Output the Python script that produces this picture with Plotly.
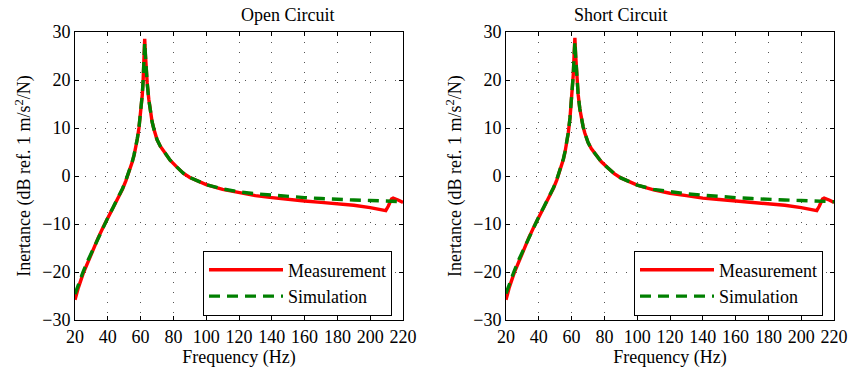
import plotly.graph_objects as go

# ---------------- data ----------------
freq = [20, 22, 25, 28, 31, 34, 37, 40, 43, 46, 49, 51, 53, 55, 56, 57, 58, 59, 60, 61,
        61.5, 62, 62.5, 63, 63.5, 64, 65, 66, 67, 68, 70, 72, 75, 78, 82, 86, 90, 95,
        100, 110, 120, 130, 140, 150, 160, 170, 180, 190, 200, 205, 208, 209.5, 211,
        212, 213, 214, 215, 217, 220]

meas_open = [-25.8, -23.3, -20.3, -17.8, -15.4, -13.0, -10.8, -8.8, -6.8, -4.8, -2.7,
             -1.0, 0.8, 3.0, 4.3, 5.9, 7.7, 10.0, 12.8, 16.8,
             19.5, 23.5, 28.6, 25.0, 21.8, 19.5, 16.0, 13.3, 11.3, 9.9, 7.6, 6.2, 4.6, 3.3,
             1.9, 0.6, -0.3, -1.1,
             -1.8, -2.8, -3.5, -4.1, -4.5, -4.9, -5.2, -5.5, -5.8, -6.1, -6.6, -7.0, -7.2,
             -7.2, -6.3, -5.4, -4.8, -4.6, -4.7, -5.0, -5.5]

sim_open = [-24.6, -22.6, -19.9, -17.5, -15.2, -12.9, -10.7, -8.7, -6.7, -4.7, -2.6,
            -0.9, 0.9, 3.1, 4.4, 6.0, 7.8, 10.1, 12.9, 16.9,
            19.6, 23.4, 27.8, 24.8, 21.7, 19.4, 15.9, 13.3, 11.3, 9.9, 7.6, 6.2, 4.6, 3.3,
            1.9, 0.6, -0.3, -1.1,
            -1.8, -2.7, -3.3, -3.7, -4.0, -4.3, -4.5, -4.7, -4.9, -5.0, -5.1, -5.15, -5.2,
            -5.2, -5.2, -5.2, -5.25, -5.25, -5.3, -5.3, -5.35]

meas_short = [-25.8, -23.2, -20.2, -17.6, -15.2, -12.8, -10.6, -8.6, -6.6, -4.6, -2.5,
              -0.8, 1.1, 3.5, 5.0, 6.8, 9.0, 12.0, 15.8, 21.0,
              25.0, 28.8, 25.0, 21.5, 19.0, 17.0, 14.0, 11.9, 10.3, 9.0, 7.0, 5.7, 4.2, 3.0,
              1.7, 0.5, -0.4, -1.2,
              -1.9, -2.9, -3.6, -4.1, -4.6, -4.9, -5.2, -5.5, -5.8, -6.1, -6.6, -7.0, -7.2,
              -7.2, -6.3, -5.4, -4.8, -4.6, -4.7, -5.0, -5.5]

sim_short = [-24.5, -22.5, -19.8, -17.3, -15.0, -12.7, -10.5, -8.5, -6.5, -4.5, -2.4,
             -0.7, 1.2, 3.6, 5.1, 6.9, 9.1, 12.1, 15.9, 21.0,
             24.8, 28.0, 24.8, 21.4, 18.9, 16.9, 14.0, 11.9, 10.3, 9.0, 7.0, 5.7, 4.2, 3.0,
             1.7, 0.5, -0.4, -1.2,
             -1.9, -2.8, -3.3, -3.7, -4.0, -4.3, -4.5, -4.7, -4.9, -5.0, -5.1, -5.15, -5.2,
             -5.2, -5.2, -5.2, -5.25, -5.25, -5.3, -5.3, -5.35]

x_ticks = [20, 40, 60, 80, 100, 120, 140, 160, 180, 200, 220]
y_ticks = [-30, -20, -10, 0, 10, 20, 30]
titles = ["Open Circuit", "Short Circuit"]
series_names = ["Measurement", "Simulation"]

# ---------------- figure ----------------
FONT = "Liberation Serif"
FS = 18
RED = "#ff0000"
GREEN = "#008000"

fig = go.Figure()

panels = [(meas_open, sim_open, "x", "y", "legend"),
          (meas_short, sim_short, "x2", "y2", "legend2")]
for meas, sim, xa, ya, lg in panels:
    fig.add_trace(go.Scatter(x=freq, y=meas, mode="lines", name=series_names[0],
                             line=dict(color=RED, width=3.4), xaxis=xa, yaxis=ya, legend=lg))
    fig.add_trace(go.Scatter(x=freq, y=sim, mode="lines", name=series_names[1],
                             line=dict(color=GREEN, width=3.4, dash="11px,7px"),
                             xaxis=xa, yaxis=ya, legend=lg))

W, H = 849, 373
dom_x1 = [75 / W, 403 / W]
dom_x2 = [506 / W, 834 / W]
dom_y = [(H - 320) / H, (H - 32) / H]

axis_common = dict(
    showline=True, linecolor="black", linewidth=1, mirror="allticks",
    ticks="inside", ticklen=4, tickcolor="black",
    showgrid=True, gridcolor="#555555", gridwidth=1, griddash="1px,9px",
    zeroline=False, automargin=False,
    tickfont=dict(family=FONT, size=FS, color="black"),
)

xcommon = dict(axis_common, range=[20, 220], tickvals=x_ticks,
               title=dict(text="Frequency (Hz)", font=dict(family=FONT, size=FS, color="black"),
                          standoff=2))
ycommon = dict(axis_common, range=[-30, 30], tickvals=y_ticks,
               title=dict(text="Inertance (dB ref. 1 m/s<sup>2</sup>/N)",
                          font=dict(family=FONT, size=FS, color="black"), standoff=6))

legend_common = dict(
    bgcolor="white", bordercolor="black", borderwidth=1,
    font=dict(family=FONT, size=FS, color="black"),
    xanchor="right", yanchor="middle", itemwidth=74, tracegroupgap=0,
)

fig.update_layout(
    width=W, height=H,
    margin=dict(l=0, r=0, t=0, b=0, autoexpand=False),
    plot_bgcolor="white", paper_bgcolor="white",
    font=dict(family=FONT, size=FS, color="black"),
    xaxis=dict(xcommon, domain=dom_x1, anchor="y"),
    yaxis=dict(ycommon, domain=dom_y, anchor="x"),
    xaxis2=dict(xcommon, domain=dom_x2, anchor="y2"),
    yaxis2=dict(ycommon, domain=dom_y, anchor="x2"),
    legend=dict(legend_common, x=392 / W, y=(H - 283) / H),
    legend2=dict(legend_common, x=823 / W, y=(H - 283) / H),
    annotations=[
        dict(text=titles[0], x=(dom_x1[0] + dom_x1[1]) / 2, y=(H - 15) / H,
             xref="paper", yref="paper", showarrow=False, yanchor="middle",
             font=dict(family=FONT, size=FS, color="black")),
        dict(text=titles[1], x=(dom_x2[0] + dom_x2[1]) / 2, y=(H - 15) / H,
             xref="paper", yref="paper", showarrow=False, yanchor="middle",
             font=dict(family=FONT, size=FS, color="black")),
    ],
    showlegend=True,
)

fig.write_html(
    "out.html",
    config={"displayModeBar": False},
    post_script="document.body.style.margin='0px';document.body.style.overflow='hidden';",
)
